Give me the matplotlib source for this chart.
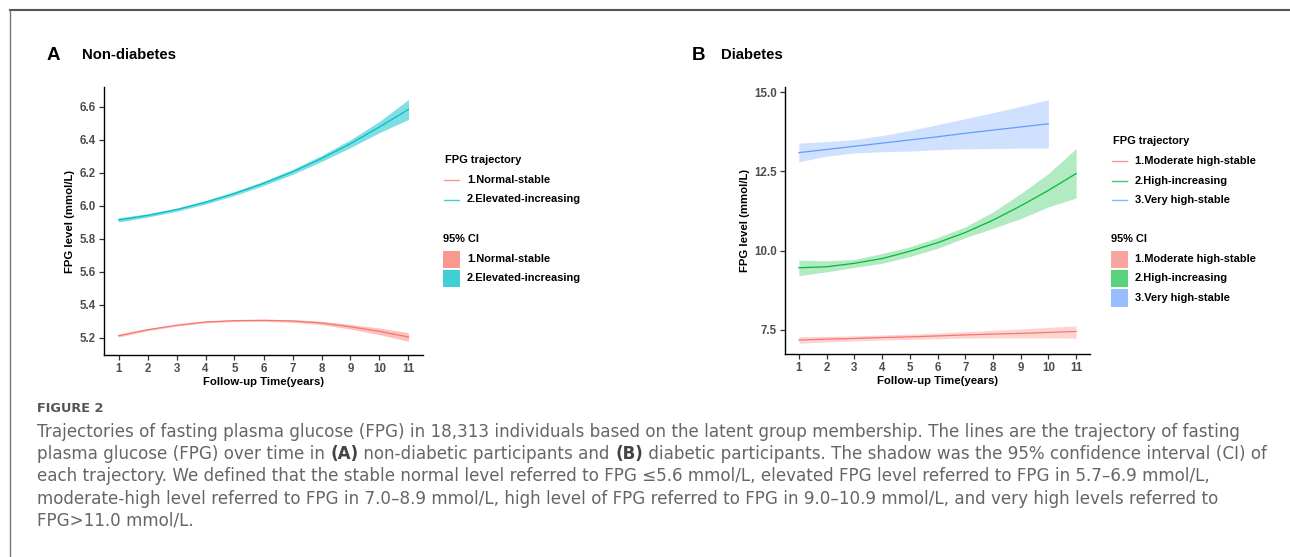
import matplotlib
matplotlib.use("Agg")
import matplotlib.pyplot as plt
from matplotlib.lines import Line2D
from matplotlib.patches import Rectangle

# ---------------- data ----------------
years = [1, 2, 3, 4, 5, 6, 7, 8, 9, 10, 11]
xticks = [1, 2, 3, 4, 5, 6, 7, 8, 9, 10, 11]

# Panel A: non-diabetes
a_labels = ["1.Normal-stable", "2.Elevated-increasing"]
a_normal_fit = [5.214, 5.250, 5.277, 5.297, 5.305, 5.307, 5.303, 5.291, 5.268, 5.240, 5.206]
a_normal_lo = [5.206, 5.244, 5.272, 5.292, 5.300, 5.301, 5.295, 5.281, 5.254, 5.220, 5.180]
a_normal_hi = [5.222, 5.256, 5.282, 5.302, 5.310, 5.313, 5.311, 5.301, 5.282, 5.260, 5.232]
a_elev_fit = [5.915, 5.942, 5.977, 6.022, 6.075, 6.136, 6.206, 6.287, 6.377, 6.478, 6.584]
a_elev_lo = [5.902, 5.932, 5.967, 6.011, 6.063, 6.123, 6.191, 6.269, 6.353, 6.444, 6.523]
a_elev_hi = [5.928, 5.952, 5.987, 6.033, 6.087, 6.149, 6.221, 6.305, 6.401, 6.512, 6.644]
a_yticks = [5.2, 5.4, 5.6, 5.8, 6.0, 6.2, 6.4, 6.6]

# Panel B: diabetes
b_labels = ["1.Moderate high-stable", "2.High-increasing", "3.Very high-stable"]
b_mod_fit = [7.18, 7.21, 7.23, 7.26, 7.28, 7.31, 7.34, 7.37, 7.39, 7.42, 7.45]
b_mod_lo = [7.08, 7.12, 7.15, 7.18, 7.20, 7.22, 7.24, 7.25, 7.25, 7.25, 7.24]
b_mod_hi = [7.29, 7.30, 7.31, 7.34, 7.37, 7.40, 7.44, 7.49, 7.53, 7.58, 7.63]
b_high_fit = [9.46, 9.49, 9.60, 9.75, 9.98, 10.25, 10.57, 10.96, 11.41, 11.90, 12.43]
b_high_lo = [9.21, 9.33, 9.47, 9.60, 9.81, 10.07, 10.41, 10.70, 11.01, 11.38, 11.66]
b_high_hi = [9.70, 9.68, 9.72, 9.91, 10.12, 10.41, 10.75, 11.22, 11.80, 12.43, 13.22]
years_vh = [1, 2, 3, 4, 5, 6, 7, 8, 9, 10]
b_vh_fit = [13.09, 13.19, 13.29, 13.39, 13.49, 13.59, 13.70, 13.80, 13.90, 14.00]
b_vh_lo = [12.80, 12.98, 13.08, 13.12, 13.14, 13.18, 13.21, 13.22, 13.23, 13.24]
b_vh_hi = [13.39, 13.44, 13.50, 13.63, 13.79, 13.97, 14.16, 14.35, 14.55, 14.76]
b_yticks = [7.5, 10.0, 12.5, 15.0]

# ---------------- style ----------------
W, H = 1290, 557
DPI = 100
RED = "#F8766D"
TEAL = "#00BFC4"
GREEN = "#00BA38"
BLUE = "#619CFF"
TICKC = "#4D4D4D"
FONT = "Liberation Sans"

fig = plt.figure(figsize=(W / DPI, H / DPI), dpi=DPI)
fig.patch.set_facecolor("white")


def fx(px):
    return px / W


def fy(py):
    return 1 - py / H


def make_axes(l, t, r, b):
    return fig.add_axes([fx(l), fy(b), fx(r - l), (b - t) / H])


def style_axes(ax, yticks, fmt):
    for s in ["top", "right"]:
        ax.spines[s].set_visible(False)
    for s in ["left", "bottom"]:
        ax.spines[s].set_linewidth(1.0)
        ax.spines[s].set_color("black")
    ax.set_xlim(0.5, 11.5)
    ax.set_xticks(xticks)
    ax.set_xticklabels([str(v) for v in xticks])
    ax.set_yticks(yticks)
    ax.set_yticklabels([fmt.format(v) for v in yticks])
    ax.tick_params(axis="both", length=3.5, width=0.9, color="#333333",
                   labelsize=8.3, labelcolor=TICKC, pad=2.5)
    for lab in ax.get_xticklabels() + ax.get_yticklabels():
        lab.set_fontweight("bold")
        lab.set_fontfamily(FONT)
    ax.set_xlabel("Follow-up Time(years)", fontsize=8.2, fontweight="bold",
                  fontfamily=FONT, labelpad=1.0)
    ax.set_ylabel("FPG level (mmol/L)", fontsize=8.2, fontweight="bold",
                  fontfamily=FONT, labelpad=3)
    ax.set_facecolor("none")


# ---------------- Panel A ----------------
axA = make_axes(104, 87, 423, 355)
axA.fill_between(years, a_normal_lo, a_normal_hi, color=RED, alpha=0.45, lw=0)
axA.fill_between(years, a_elev_lo, a_elev_hi, color=TEAL, alpha=0.5, lw=0)
axA.plot(years, a_normal_fit, color=RED, lw=0.9)
axA.plot(years, a_elev_fit, color=TEAL, lw=0.9)
axA.set_ylim(5.097, 6.72)
style_axes(axA, a_yticks, "{:.1f}")

# ---------------- Panel B ----------------
axB = make_axes(785, 87, 1090, 354)
axB.fill_between(years, b_mod_lo, b_mod_hi, color=RED, alpha=0.3, lw=0)
axB.fill_between(years, b_high_lo, b_high_hi, color=GREEN, alpha=0.3, lw=0)
axB.fill_between(years_vh, b_vh_lo, b_vh_hi, color=BLUE, alpha=0.3, lw=0)
axB.plot(years, b_mod_fit, color=RED, lw=0.9)
axB.plot(years, b_high_fit, color=GREEN, lw=0.9)
axB.plot(years_vh, b_vh_fit, color=BLUE, lw=0.9)
axB.set_ylim(6.74, 15.16)
style_axes(axB, b_yticks, "{:.1f}")

# ---------------- panel titles ----------------
fig.text(fx(47), fy(55), "A", fontsize=13.5, fontweight="bold", fontfamily=FONT,
         va="center", ha="left")
fig.text(fx(82), fy(55), "Non-diabetes", fontsize=10.7, fontweight="bold",
         fontfamily=FONT, va="center", ha="left")
fig.text(fx(692), fy(55), "B", fontsize=13.5, fontweight="bold", fontfamily=FONT,
         va="center", ha="left")
fig.text(fx(721), fy(55), "Diabetes", fontsize=10.7, fontweight="bold",
         fontfamily=FONT, va="center", ha="left")


# ---------------- legends (drawn manually) ----------------
LEGS = 7.9


def legend(x0, y_title, labels, colors, y_ci_title, fill_alpha):
    fig.text(fx(x0 + 1), fy(y_title), "FPG trajectory", fontsize=LEGS,
             fontweight="bold", fontfamily=FONT, va="center", ha="left")
    for i, (lab, c) in enumerate(zip(labels, colors)):
        y = y_title + 20 + 19.5 * i
        fig.add_artist(Line2D([fx(x0), fx(x0 + 15)], [fy(y), fy(y)], color=c,
                              lw=1.0, alpha=0.75))
        fig.text(fx(x0 + 23), fy(y), lab, fontsize=LEGS, fontweight="bold",
                 fontfamily=FONT, va="center", ha="left")
    fig.text(fx(x0 - 1), fy(y_ci_title), "95% CI", fontsize=LEGS,
             fontweight="bold", fontfamily=FONT, va="center", ha="left")
    for i, (lab, c) in enumerate(zip(labels, colors)):
        y = y_ci_title + 20 + 19.3 * i
        fig.add_artist(Rectangle((fx(x0 - 1), fy(y + 9)), 17 / W, 17.5 / H,
                                 facecolor=c, alpha=fill_alpha, lw=0,
                                 transform=fig.transFigure))
        fig.text(fx(x0 + 23), fy(y), lab, fontsize=LEGS, fontweight="bold",
                 fontfamily=FONT, va="center", ha="left")


legend(444, 160, a_labels, [RED, TEAL], 239, 0.75)
legend(1112, 141, b_labels, [RED, GREEN, BLUE], 239, 0.65)

# ---------------- frame lines ----------------
fig.add_artist(Line2D([fx(10), 1.0], [fy(10), fy(10)], color="#555555", lw=1.5))
fig.add_artist(Line2D([fx(10), fx(10)], [fy(10), 0.0], color="#777777", lw=1.0))

# ---------------- caption ----------------
CAPF = ["DejaVu Sans"]
CAPC = "#666666"
CAP_X = 37
CAP_LINE1_RIGHT = 1245

fig.text(fx(CAP_X), fy(408), "FIGURE 2", fontsize=9.3, color="#555555",
         fontfamily=CAPF, fontweight="bold", va="center", ha="left")

cap_lines = [
    [("Trajectories of fasting plasma glucose (FPG) in 18,313 individuals based on the latent group membership. The lines are the trajectory of fasting", False)],
    [("plasma glucose (FPG) over time in ", False), ("(A)", True),
     (" non-diabetic participants and ", False), ("(B)", True),
     (" diabetic participants. The shadow was the 95% confidence interval (CI) of", False)],
    [("each trajectory. We defined that the stable normal level referred to FPG \u22645.6 mmol/L, elevated FPG level referred to FPG in 5.7\u20136.9 mmol/L,", False)],
    [("moderate-high level referred to FPG in 7.0\u20138.9 mmol/L, high level of FPG referred to FPG in 9.0\u201310.9 mmol/L, and very high levels referred to", False)],
    [("FPG>11.0 mmol/L.", False)],
]
renderer = fig.canvas.get_renderer()
# choose the caption size so that the first line spans the same width as in the reference
probe = fig.text(0, 0, cap_lines[0][0][0], fontsize=10, fontfamily=CAPF)
pw = probe.get_window_extent(renderer=renderer).width
probe.remove()
CAPS = 10 * (CAP_LINE1_RIGHT - CAP_X) / pw

for i, segs in enumerate(cap_lines):
    y = 432 + 22.2 * i
    x = fx(CAP_X)
    for txt, bold in segs:
        t = fig.text(x, fy(y), txt, fontsize=CAPS, color=("#444444" if bold else CAPC),
                     fontfamily=CAPF, fontweight=("bold" if bold else "normal"),
                     va="center", ha="left")
        bb = t.get_window_extent(renderer=renderer)
        x = bb.x1 / W

fig.savefig("out.png", dpi=DPI)
